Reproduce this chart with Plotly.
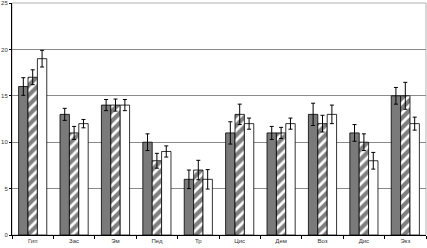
import plotly.graph_objects as go

categories = ["Гип", "Зас", "Эм", "Пед", "Тр", "Цис", "Дем", "Воз", "Дис", "Экз"]
series1 = [16, 13, 14, 10, 6, 11, 11, 13, 11, 15]
series2 = [17, 11, 14, 8, 7, 13, 11, 12, 10, 15]
series3 = [19, 12, 14, 9, 6, 12, 12, 13, 8, 12]
err1 = [0.95, 0.65, 0.6, 0.9, 1.0, 1.2, 0.7, 1.2, 0.9, 0.9]
err2 = [0.8, 0.7, 0.65, 0.8, 1.05, 1.1, 0.6, 0.9, 0.9, 1.45]
err3 = [0.9, 0.45, 0.6, 0.6, 1.05, 0.6, 0.6, 1.0, 0.9, 0.7]
y_ticks = [0, 5, 10, 15, 20, 25]

eb = dict(type="data", color="black", thickness=1, width=2)

fig = go.Figure()
fig.add_trace(go.Bar(x=categories, y=series1, marker=dict(color="#7a7a7a", line=dict(color="black", width=0.8)),
                     error_y=dict(array=err1, **eb)))
fig.add_trace(go.Bar(x=categories, y=series2,
                     marker=dict(color="white", line=dict(color="black", width=0.8),
                                 pattern=dict(shape="/", fgcolor="black", bgcolor="white", size=7, solidity=0.6)),
                     error_y=dict(array=err2, **eb)))
fig.add_trace(go.Bar(x=categories, y=series3, marker=dict(color="white", line=dict(color="black", width=0.8)),
                     error_y=dict(array=err3, **eb)))

fig.update_layout(
    width=427, height=248,
    margin=dict(l=12, r=1, t=3, b=13, autoexpand=False),
    paper_bgcolor="white", plot_bgcolor="white",
    barmode="group", bargap=0.32, bargroupgap=0,
    showlegend=False, hovermode=False,
    font=dict(family="Liberation Sans, Arial, sans-serif", size=6, color="#333"),
    shapes=[dict(type="rect", xref="paper", yref="paper", x0=0, x1=1, y0=0, y1=1,
                 line=dict(color="#b0b0b0", width=1), layer="below")],
)
fig.update_xaxes(showline=True, linecolor="black", linewidth=1, ticks="outside", ticklen=3,
                 tickcolor="black", tickwidth=1, tickson="boundaries", showgrid=False,
                 automargin=False, tickfont=dict(size=6, color="#333"))
fig.update_yaxes(range=[0, 25], tickvals=y_ticks, showline=True, linecolor="black", linewidth=1,
                 ticks="outside", ticklen=2, tickcolor="black", tickwidth=1,
                 showgrid=True, gridcolor="#8a8a8a", gridwidth=1, zeroline=False,
                 automargin=False, tickfont=dict(size=6, color="#333"))

fig.write_html("out.html", config={"displayModeBar": False, "staticPlot": True},
               post_script="document.body.style.margin='0';document.body.style.overflow='hidden';")
